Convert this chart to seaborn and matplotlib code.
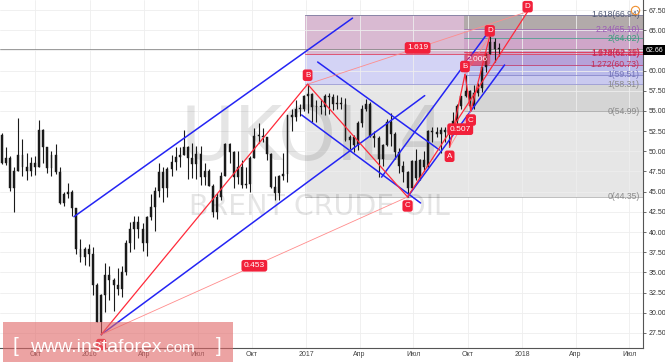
import numpy as np
import pandas as pd
import matplotlib
matplotlib.use("Agg")
import matplotlib.pyplot as plt
import matplotlib.dates as mdates
from matplotlib.patches import Rectangle
import seaborn as sns

sns.set_theme(style="white")
plt.rcParams['font.family'] = ['Liberation Sans', 'DejaVu Sans']

# ---------------- data (weekly OHLC, UKOIL / Brent) ----------------
first_week = "2015-08-03"
opens = [52.0, 48.6, 49.2, 45.5, 47.6, 49.6, 48.1, 47.5, 48.6, 48.1, 52.7, 50.5, 47.9, 49.6, 47.4, 43.6, 44.7, 44.9, 43.0, 37.9, 36.9, 37.9,
         37.3, 33.5, 28.9, 32.2, 34.7, 34.1, 33.4, 33.0, 35.1, 38.7, 40.4, 41.2, 40.4, 38.7, 41.9, 43.1, 45.1, 47.4, 45.4, 47.8, 48.7, 49.3,
         49.6, 50.5, 49.2, 48.4, 49.7, 46.8, 47.6, 45.7, 42.5, 44.3, 47.0, 50.9, 49.9, 46.8, 48.0, 45.8, 45.9, 49.2, 51.9, 51.9, 51.8, 49.7,
         45.6, 44.8, 46.9, 47.2, 54.5, 54.3, 55.2, 55.2,
         56.8, 57.1, 55.5, 55.5, 55.5, 56.8, 56.7, 55.8, 56.0, 55.9, 51.4, 51.8, 50.8, 53.5, 55.2, 55.9, 51.9, 51.7, 49.1, 50.8, 53.6, 52.1,
         49.9, 48.2, 47.4, 45.5, 48.8, 46.7, 48.9, 48.1, 52.5, 52.4, 52.1, 52.7, 52.4, 52.7, 53.8, 55.6, 56.9, 57.5, 55.6, 57.2, 57.8, 60.4,
         62.1, 63.5, 62.7]
highs = [52.3, 50.5, 49.4, 48.0, 54.1, 51.5, 49.8, 49.3, 49.4, 53.9, 52.8, 50.5, 50.0, 50.9, 48.0, 45.0, 46.1, 45.2, 43.0, 39.2, 38.2, 38.5,
         38.2, 33.7, 32.3, 36.2, 35.8, 34.3, 35.5, 35.8, 39.0, 41.2, 42.0, 42.0, 41.1, 42.0, 44.7, 45.6, 48.5, 48.0, 48.1, 49.5, 50.5, 50.5,
         52.6, 50.6, 51.0, 50.7, 50.6, 48.5, 47.8, 45.9, 44.8, 47.4, 51.0, 51.0, 50.0, 50.1, 48.9, 48.0, 49.4, 52.9, 53.5, 52.9, 51.8, 49.8,
         47.0, 47.1, 49.8, 54.5, 55.2, 56.4, 55.8, 57.0,
         58.3, 57.2, 56.3, 56.5, 57.1, 57.2, 57.1, 57.0, 56.7, 56.6, 52.0, 52.0, 53.7, 55.7, 56.5, 56.1, 52.5, 51.9, 50.9, 54.0, 54.7, 52.4,
         50.4, 48.8, 47.5, 48.9, 50.3, 49.1, 50.0, 52.7, 53.0, 53.0, 53.0, 53.0, 53.0, 54.9, 55.8, 56.9, 59.5, 57.6, 58.2, 58.5, 60.5, 62.2,
         64.3, 64.0, 63.4]
lows = [48.4, 48.3, 45.1, 42.5, 47.5, 46.9, 46.4, 47.0, 47.1, 48.0, 48.6, 47.3, 47.0, 47.2, 43.5, 43.2, 44.2, 42.0, 37.3, 36.3, 35.9, 35.8,
        32.2, 28.8, 27.3, 30.1, 31.6, 30.2, 32.2, 32.0, 34.7, 37.5, 37.9, 39.3, 37.6, 37.0, 41.5, 40.1, 44.3, 43.7, 44.3, 47.0, 47.7, 48.0,
        49.5, 46.6, 46.7, 46.6, 45.8, 45.8, 45.7, 41.9, 41.6, 44.0, 46.9, 48.5, 45.5, 46.0, 45.4, 45.4, 45.0, 49.2, 51.0, 51.2, 48.9, 45.4,
        44.0, 44.0, 46.5, 46.2, 52.5, 53.7, 54.4, 55.0,
        54.8, 53.6, 53.6, 54.6, 54.5, 54.6, 55.1, 55.2, 55.2, 51.3, 50.3, 49.9, 50.2, 53.0, 55.0, 51.8, 50.5, 46.8, 48.2, 50.7, 50.7, 49.1,
        47.3, 46.2, 44.35, 45.4, 46.5, 46.4, 47.6, 48.0, 51.1, 51.8, 49.8, 51.2, 50.5, 52.6, 53.3, 55.2, 56.7, 55.0, 55.3, 56.9, 57.3, 59.8,
        62.0, 61.0, 61.8]
closes = [48.6, 49.2, 45.5, 47.6, 49.6, 48.1, 47.5, 48.6, 48.1, 52.7, 50.5, 47.9, 49.6, 47.4, 43.6, 44.7, 44.9, 43.0, 37.9, 36.9, 37.9, 37.3,
          33.5, 28.9, 32.2, 34.7, 34.1, 33.4, 33.0, 35.1, 38.7, 40.4, 41.2, 40.4, 38.7, 41.9, 43.1, 45.1, 47.4, 45.4, 47.8, 48.7, 49.3, 49.6,
          50.5, 49.2, 48.4, 49.7, 46.8, 47.6, 45.7, 42.5, 44.3, 47.0, 50.9, 49.9, 46.8, 48.0, 45.8, 45.9, 49.2, 51.9, 51.9, 51.8, 49.7, 45.6,
          44.8, 46.9, 47.2, 54.5, 54.3, 55.2, 55.2, 56.8,
          57.1, 55.5, 55.5, 55.5, 56.8, 56.7, 55.8, 56.0, 55.9, 51.4, 51.8, 50.8, 53.5, 55.2, 55.9, 51.9, 51.7, 49.1, 50.8, 53.6, 52.1, 49.9,
          48.2, 47.4, 45.5, 48.8, 46.7, 48.9, 48.1, 52.5, 52.4, 52.1, 52.7, 52.4, 52.7, 53.8, 55.6, 56.9, 57.5, 55.6, 57.2, 57.8, 60.4, 62.1,
          63.5, 62.7, 62.66]
last_price = 62.66

# pattern points (date, price)
X1 = ("2016-01-20", 27.3)
B1 = ("2017-01-03", 58.31)
C1 = ("2017-06-21", 44.35)
D1 = ("2018-01-10", 67.3)
A2 = ("2017-08-31", 50.5)
B2 = ("2017-09-26", 59.51)
C2 = ("2017-10-06", 54.99)
D2 = ("2017-11-07", 64.3)

# channel lines (start, end)
blue_lines = [
    (("2015-12-05", 41.9), ("2017-03-20", 66.5)),
    (("2016-01-20", 27.3), ("2017-07-20", 56.9)),
    (("2016-12-24", 54.5), ("2017-07-13", 43.6)),
    (("2017-01-20", 61.06), ("2017-08-14", 50.16)),
    (("2017-05-08", 46.8), ("2017-11-07", 65.0)),
    (("2017-06-21", 44.35), ("2017-12-02", 60.7)),
]
red_lines = [(X1, B1), (B1, C1), (C1, D1), (A2, B2), (B2, C2), (C2, D2)]
ratio_lines = [(X1, C1, "0.453"), (B1, D1, "1.619"), (A2, C2, "0.507"), (B2, D2, "2.006")]

# Fibonacci levels
fib1_start = "2016-12-29"
fib1_levels = [44.35, 58.31, 62.11, 66.94]
fib2_start = "2017-09-25"
fib2_levels = [54.99, 59.51, 60.73, 62.29, 64.02, 65.10]

fib_labels = [
    ("1.618(66.94)", 66.94, "#4f5872"),
    ("2.24(65.10)", 65.10, "#9a5cb4"),
    ("2(64.02)", 64.02, "#3a9c7c"),
    ("1.618(62.29)", 62.29, "#e0203c"),
    ("1.272(62.11)", 62.11, "#c02860"),
    ("1.272(60.73)", 60.73, "#c0305a"),
    ("1(59.51)", 59.51, "#7474b8"),
    ("1(58.31)", 58.31, "#8a8a8a"),
    ("0(54.99)", 54.99, "#8a8a8a"),
    ("0(44.35)", 44.35, "#8a8a8a"),
]

quarter_ticks = ["2015-10-01", "2016-01-01", "2016-04-01", "2016-07-01", "2016-10-01", "2017-01-01",
                 "2017-04-01", "2017-07-01", "2017-10-01", "2018-01-01", "2018-04-01", "2018-07-01"]
quarter_labels = ["Окт", "2016", "Апр", "Июл", "Окт", "2017", "Апр", "Июл", "Окт", "2018", "Апр", "Июл"]

# ---------------- figure ----------------
W, H = 665, 362
fig = plt.figure(figsize=(W / 100, H / 100), dpi=100)
ax = fig.add_axes([0, 14 / H, 643 / W, 348 / H])
xmin, xmax = pd.Timestamp("2015-08-02"), pd.Timestamp("2018-07-24")
ax.set_xlim(xmin, xmax)
ax.set_ylim(25.64, 68.74)

T = pd.Timestamp
far = mdates.date2num(xmax) + 30

def rect(x0, y0, y1, color, z=0.2):
    x0n = mdates.date2num(T(x0))
    ax.add_patch(Rectangle((x0n, y0), far - x0n, y1 - y0, facecolor=color, edgecolor="none", zorder=z))

# Fib tool 1 zones
rect(fib1_start, fib1_levels[0], fib1_levels[1], "#e6e6e6")
rect(fib1_start, fib1_levels[1], fib1_levels[2], "#d3d3f5")
rect(fib1_start, fib1_levels[2], fib1_levels[3], "#d9bad2")
# Fib tool 2 zones (composite colours)
rect(fib2_start, fib2_levels[0], fib1_levels[1], "#d5d5d5", 0.3)
rect(fib2_start, fib1_levels[1], fib2_levels[1], "#c9c9ef", 0.3)
rect(fib2_start, fib2_levels[1], fib2_levels[2], "#babaea", 0.3)
rect(fib2_start, fib2_levels[2], fib1_levels[2], "#b6a2d9", 0.3)
rect(fib2_start, fib1_levels[2], fib2_levels[4], "#cfa6c9", 0.3)
rect(fib2_start, fib2_levels[4], fib2_levels[5], "#c3a6c4", 0.3)
rect(fib2_start, fib2_levels[5], fib1_levels[3], "#b2aaaa", 0.3)

def hline(x0, y, color):
    ax.plot([T(x0), xmax], [y, y], color=color, lw=0.6, zorder=0.6)

for y, c in zip(fib1_levels, ["#b4b4b4", "#9a9ad6", "#e04060", "#7c7ca0"]):
    hline(fib1_start, y, c)
for y, c in zip(fib2_levels, ["#a8a8a8", "#8888cc", "#c04070", "#e03050", "#50a090", "#a070b0"]):
    hline(fib2_start, y, c)

# grid
ax.set_axisbelow(True)
ax.set_yticks(np.arange(27.5, 67.6, 2.5))
ax.set_xticks([T(t) for t in quarter_ticks])
ax.grid(True, color="#eeeeee", lw=0.6)

# watermark
ax.text(0.488, 0.598, "UKOIL4", transform=ax.transAxes, ha="center", va="center",
        fontsize=53, color="black", alpha=0.1, family="DejaVu Sans", zorder=0.8)
ax.text(0.497, 0.405, "BRENT CRUDE OIL", transform=ax.transAxes, ha="center", va="center",
        fontsize=20.5, color="black", alpha=0.1, family="DejaVu Sans", zorder=0.8)

# current price line
ax.axhline(last_price, color="#8a8a8a", lw=0.6, zorder=0.9)

# candles
dates = pd.date_range(first_week, periods=len(closes), freq="7D") + pd.Timedelta(days=2)
o = np.array(opens); c = np.array(closes); h = np.array(highs); l = np.array(lows)
ax.vlines(dates, l, h, color="#1a1a1a", lw=0.8, zorder=3)
body_lo = np.minimum(o, c)
body_h = np.maximum(np.abs(c - o), 0.12)
ax.bar(dates, body_h, bottom=body_lo, width=3.2, color="#1a1a1a", edgecolor="#1a1a1a", lw=0.3, zorder=3)

# lines through seaborn
def seg_frame(segs):
    rows = []
    for i, (p, q) in enumerate(segs):
        rows.append({"x": T(p[0]), "y": p[1], "seg": i})
        rows.append({"x": T(q[0]), "y": q[1], "seg": i})
    return pd.DataFrame(rows)

sns.lineplot(data=seg_frame(blue_lines), x="x", y="y", units="seg", estimator=None, sort=False,
             color="#2424f4", lw=1.1, ax=ax, zorder=4, legend=False)
sns.lineplot(data=seg_frame([(p, q) for p, q, _ in ratio_lines]), x="x", y="y", units="seg", estimator=None,
             sort=False, color="#ff8c8c", lw=0.6, ax=ax, zorder=4, legend=False)
sns.lineplot(data=seg_frame(red_lines), x="x", y="y", units="seg", estimator=None, sort=False,
             color="#ff2a3a", lw=0.9, ax=ax, zorder=4.5, legend=False)
ax.set_xlabel(""); ax.set_ylabel("")

box = dict(boxstyle="round,pad=0.28,rounding_size=0.3", fc="#f2203a", ec="none")

def point_label(pt, txt, dy_px):
    ax.annotate(txt, xy=(T(pt[0]), pt[1]), xytext=(0, dy_px / 1.389), textcoords="offset points",
                ha="center", va="center", fontsize=5.8, color="white", bbox=box, zorder=6)

point_label(X1, "A", -10)
point_label(B1, "B", 9)
point_label(C1, "C", -9)
point_label(D1, "D", 5)
point_label(A2, "A", -9)
point_label(B2, "B", 8)
point_label(C2, "C", -9)
point_label(D2, "D", 5)

for p, q, txt in ratio_lines:
    mx = T(p[0]) + (T(q[0]) - T(p[0])) / 2
    my = (p[1] + q[1]) / 2
    b = dict(box)
    if txt == "2.006":
        b["alpha"] = 0.55
        my -= 0.5
    ax.text(mx, my, txt, ha="center", va="center", fontsize=6, color="white", bbox=b, zorder=6)

# fib labels
for txt, y, col in fib_labels:
    ax.text(0.995, y, txt, transform=ax.get_yaxis_transform(), ha="right", va="center",
            fontsize=6.2, color=col, zorder=7)

# axes styling
for s in ["left", "top"]:
    ax.spines[s].set_visible(False)
ax.spines["right"].set_color("#555555"); ax.spines["right"].set_linewidth(0.8)
ax.spines["bottom"].set_color("#555555"); ax.spines["bottom"].set_linewidth(0.8)
ax.yaxis.tick_right()
ax.set_yticklabels([f"{v:.2f}" for v in np.arange(27.5, 67.6, 2.5)])
ax.tick_params(axis="y", labelsize=5, length=2.5, width=0.6, color="#555555", pad=1.5, labelcolor="#333333", right=True)
ax.set_xticklabels(quarter_labels)
ax.tick_params(axis="x", labelsize=5, length=0, pad=2.5, labelcolor="#444444")

# orange alert icon
ax.plot([635 / 643], [1 - 10 / 348], marker="o", ms=6, mfc="none", mec="#f09030", mew=0.8,
        transform=ax.transAxes, zorder=8, clip_on=False)

# last price tag
fig.text(654 / W, 1 - 50 / H, f"{last_price:.2f}", ha="center", va="center", fontsize=5, color="white",
         bbox=dict(boxstyle="square,pad=0.25", fc="black", ec="none"))

# logo
fig.patches.append(Rectangle((3 / W, 0), 230 / W, 40 / H, transform=fig.transFigure,
                             facecolor="#e06666", alpha=0.6, edgecolor="none", zorder=10))
yb = 10 / H
fig.text(13 / W, yb, "[", fontsize=15, color="white", va="baseline", zorder=11)
fig.text(30 / W, yb, "www.instaforex", fontsize=14, color="white", va="baseline", zorder=11)
fig.text(163 / W, yb, ".com", fontsize=11, color="white", va="baseline", zorder=11)
fig.text(216 / W, yb, "]", fontsize=15, color="white", va="baseline", zorder=11)

fig.savefig("out.png", dpi=100)
